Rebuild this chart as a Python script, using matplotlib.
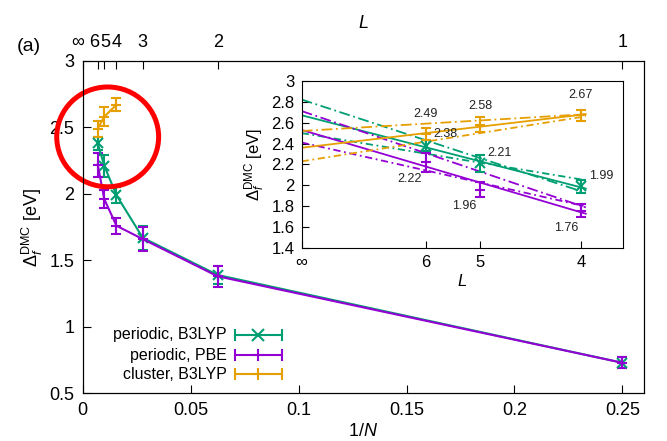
"""Formation energy vs 1/N with inset extrapolation to L -> infinity."""
import matplotlib
matplotlib.use("Agg")
import matplotlib.pyplot as plt
from matplotlib.patches import Ellipse
from matplotlib.transforms import ScaledTranslation

plt.rcParams["font.family"] = ["Liberation Sans", "DejaVu Sans"]
plt.rcParams["mathtext.fontset"] = "custom"
plt.rcParams["mathtext.rm"] = "Liberation Sans"
plt.rcParams["mathtext.it"] = "Liberation Sans:italic"
plt.rcParams["mathtext.bf"] = "Liberation Sans:bold"

GREEN, PURPLE, ORANGE = "#009e73", "#9400d3", "#e69f00"

# supercell size L and 1/N (N = 4 L^2)
L_LABELS = ["6", "5", "4", "3", "2", "1"]
INV_N = [1 / 144, 1 / 100, 1 / 64, 1 / 36, 1 / 16, 1 / 4]

b3lyp_periodic = [2.38, 2.21, 1.99, 1.67, 1.39, 0.73]
b3lyp_periodic_err = [0.05, 0.085, 0.06, 0.09, 0.07, 0.04]
pbe_periodic = [2.22, 1.96, 1.76, 1.66, 1.38, 0.73]
pbe_periodic_err = [0.09, 0.07, 0.06, 0.09, 0.08, 0.04]
b3lyp_cluster = [2.49, 2.58, 2.67]
b3lyp_cluster_err = [0.06, 0.07, 0.05]

# extrapolation lines in the inset: value at 1/N = 0 and at the right end
FIT_X = [0.0, 0.0159]
green_fit = [2.67, 1.97]
green_fit_a = [2.82, 1.93]
green_fit_b = [2.50, 2.05]
purple_fit = [2.53, 1.73]
purple_fit_a = [2.71, 1.79]
purple_fit_b = [2.41, 1.80]
orange_fit = [2.36, 2.68]
orange_fit_a = [2.52, 2.68]
orange_fit_b = [2.23, 2.66]

fig = plt.figure(figsize=(6.67, 4.41), dpi=100)
ax = fig.add_axes([0.124, 0.108, 0.8415, 0.7542])

eb = dict(capsize=3.5, lw=1.5, elinewidth=1.5, capthick=1.5, ms=7, mew=1.5)
ax.errorbar(INV_N, b3lyp_periodic, yerr=b3lyp_periodic_err, color=GREEN, marker="x", **eb)
ax.errorbar(INV_N, pbe_periodic, yerr=pbe_periodic_err, color=PURPLE, marker="+", **eb)
ax.errorbar(INV_N[:3], b3lyp_cluster, yerr=b3lyp_cluster_err, color=ORANGE, marker="+", **eb)

ax.set_xlim(0, 0.26)
ax.set_ylim(0.5, 3)
ax.set_xticks([0, 0.05, 0.1, 0.15, 0.2, 0.25], ["0", "0.05", "0.1", "0.15", "0.2", "0.25"])
ax.set_yticks([0.5, 1, 1.5, 2, 2.5, 3], ["0.5", "1", "1.5", "2", "2.5", "3"])
ax.tick_params(direction="in", length=5.5, labelsize=13, pad=6)
ax.set_xlabel(r"1/$N$", fontsize=13, labelpad=3)
ax.set_ylabel(r"$\Delta_f^{\mathrm{DMC}}$ [eV]", fontsize=13, labelpad=3)

top = ax.twiny()
top.set_xlim(ax.get_xlim())
top.set_xticks([0] + INV_N, ["\u221e"] + L_LABELS)
top.tick_params(direction="in", length=5.5, labelsize=13, pad=7)
top.set_xlabel(r"$L$", fontsize=13, labelpad=4)
# the first labels sit very close together; spread them a little
for lab, dx in zip(top.get_xticklabels()[:4], [-5, -4, 1, 0.5]):
    lab.set_transform(lab.get_transform() + ScaledTranslation(dx / 100, 0, fig.dpi_scale_trans))

# legend drawn gnuplot style: label, then a horizontal errorbar sample
for y, label, color, marker in [(0.177, "periodic, B3LYP", GREEN, "x"),
                                (0.115, "periodic, PBE", PURPLE, "+"),
                                (0.058, "cluster, B3LYP", ORANGE, "+")]:
    ax.text(0.2565, y, label, transform=ax.transAxes, ha="right", va="center", fontsize=11.5)
    ax.plot([0.2713, 0.3545], [y, y], transform=ax.transAxes, color=color, lw=1.5,
            marker="|", ms=8, mew=1.5)
    ax.plot([0.3129], [y], transform=ax.transAxes, color=color, marker=marker, ms=8, mew=1.5)

ax.text(-0.117, 1.043, "(a)", transform=ax.transAxes, fontsize=14, va="center", ha="left")

ax.add_patch(Ellipse((0.01157, 2.428), 0.0472, 0.75, fill=False, ec="#ff0000", lw=3.6,
                     clip_on=False, zorder=10))

# inset
axin = fig.add_axes([0.4523, 0.437, 0.4822, 0.380])
for vals, color, style in [
    (green_fit, GREEN, "-"), (green_fit_a, GREEN, (0, (6, 2, 1, 2))), (green_fit_b, GREEN, (0, (4, 2, 1, 2))),
    (purple_fit, PURPLE, "-"), (purple_fit_a, PURPLE, (0, (6, 2, 1, 2))), (purple_fit_b, PURPLE, (0, (4, 2, 1, 2))),
    (orange_fit, ORANGE, "-"), (orange_fit_a, ORANGE, (0, (6, 2, 1, 2))), (orange_fit_b, ORANGE, (0, (4, 2, 1, 2))),
]:
    axin.plot(FIT_X, vals, color=color, ls=style, lw=1.3)

eb_in = dict(capsize=3.5, ls="none", elinewidth=1.5, capthick=1.5, ms=7, mew=1.5)
axin.errorbar(INV_N[:3], b3lyp_periodic[:3], yerr=b3lyp_periodic_err[:3], color=GREEN, marker="x", **eb_in)
axin.errorbar(INV_N[:3], pbe_periodic[:3], yerr=pbe_periodic_err[:3], color=PURPLE, marker="+", **eb_in)
axin.errorbar(INV_N[:3], b3lyp_cluster, yerr=b3lyp_cluster_err, color=ORANGE, marker="+", **eb_in)

for xs, ys, offsets in [
    (INV_N[:3], b3lyp_cluster, [(0, 20), (0, 19), (0, 20)]),
    (INV_N[:3], b3lyp_periodic[:3], [(20, 12), (19, 10), (20, 10)]),
    (INV_N[:3], pbe_periodic[:3], [(-16, -17), (-16, -16), (-15, -17)]),
]:
    for x, y, off in zip(xs, ys, offsets):
        axin.annotate(f"{y:.2f}", (x, y), xytext=off, textcoords="offset pixels",
                      ha="center", va="center", fontsize=9, color="#222222")

axin.set_xlim(0, 0.018)
axin.set_ylim(1.4, 3)
axin.set_xticks([0] + INV_N[:3], ["\u221e"] + L_LABELS[:3])
axin.set_yticks([1.4, 1.6, 1.8, 2, 2.2, 2.4, 2.6, 2.8, 3],
                ["1.4", "1.6", "1.8", "2", "2.2", "2.4", "2.6", "2.8", "3"])
axin.tick_params(direction="in", length=5, labelsize=12, pad=5)
axin.set_xlabel(r"$L$", fontsize=12, labelpad=2)
axin.set_ylabel(r"$\Delta_f^{\mathrm{DMC}}$ [eV]", fontsize=12, labelpad=3)

fig.savefig("out.png", dpi=100)
